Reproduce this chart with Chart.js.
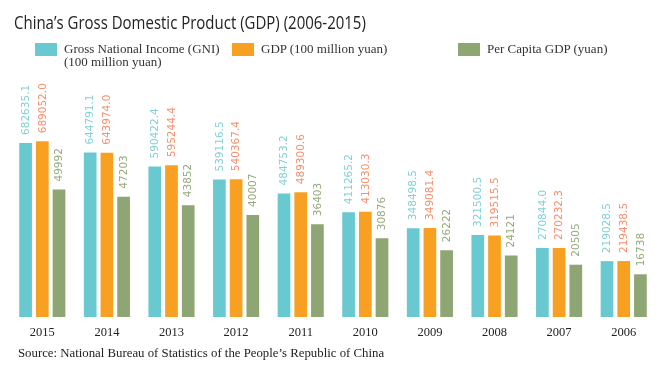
<!DOCTYPE html>
<html>
<head>
<meta charset="utf-8">
<script src="https://cdn.jsdelivr.net/npm/chart.js@4.4.1/dist/chart.umd.min.js"></script>
<style>
    body { margin: 0; background: #fff; }
    #wrap { position: relative; width: 667px; height: 369px; overflow: hidden; }
    #title {
        position: absolute; left: 14px; top: 9px;
        font-family: "Open Sans", sans-serif;
        font-size: 18.5px; color: #222; white-space: nowrap;
        transform: scaleX(0.81); transform-origin: left top;
    }
    .lg { position: absolute; top: 43px; font-family: "Liberation Serif", serif; font-size: 13px; color: #333; line-height: 13px; }
    .lg i { position: absolute; left: 0; top: 0; width: 22px; height: 13px; }
    .lg span { position: absolute; left: 29px; top: -1px; white-space: nowrap; }
    #source {
        position: absolute; left: 18px; top: 346px;
        font-family: "Liberation Serif", serif; font-size: 12.8px; color: #222; white-space: nowrap;
    }
</style>
</head>
<body>
<div id="wrap">
    <canvas id="gdpChart" width="667" height="369"></canvas>
    <div id="title">China’s Gross Domestic Product (GDP) (2006-2015)</div>
    <div class="lg" style="left:35px"><i style="background:#68c9d0"></i><span>Gross National Income (GNI)<br>(100 million yuan)</span></div>
    <div class="lg" style="left:232px"><i style="background:#f8a021"></i><span>GDP (100 million yuan)</span></div>
    <div class="lg" style="left:458px"><i style="background:#8ea673"></i><span>Per Capita GDP (yuan)</span></div>
    <div id="source">Source: National Bureau of Statistics of the People’s Republic of China</div>
</div>
<script>
const years = ["2015", "2014", "2013", "2012", "2011", "2010", "2009", "2008", "2007", "2006"];
const gniValues = [682635.1, 644791.1, 590422.4, 539116.5, 484753.2, 411265.2, 348498.5, 321500.5, 270844.0, 219028.5];
const gdpValues = [689052.0, 643974.0, 595244.4, 540367.4, 489300.6, 413030.3, 349081.4, 319515.5, 270232.3, 219438.5];
const perCapitaValues = [49992, 47203, 43852, 40007, 36403, 30876, 26222, 24121, 20505, 16738];

// labels drawn upright (rotated) above each bar
const barLabels = {
    id: "barLabels",
    afterDatasetsDraw(chart) {
        const ctx = chart.ctx;
        chart.data.datasets.forEach((ds, i) => {
            const meta = chart.getDatasetMeta(i);
            meta.data.forEach((bar, j) => {
                const v = ds.data[j];
                const text = ds.decimals ? v.toFixed(ds.decimals) : String(v);
                ctx.save();
                ctx.translate(bar.x + 0.5, bar.y - 8);
                ctx.rotate(-Math.PI / 2);
                ctx.font = "10.5px 'DejaVu Sans'";
                ctx.fillStyle = ds.labelColor;
                ctx.textAlign = "left";
                ctx.textBaseline = "middle";
                ctx.fillText(text, 0, 0);
                ctx.restore();
            });
        });
    },
};

const ctx = document.getElementById("gdpChart").getContext("2d");
new Chart(ctx, {
    type: "bar",
    data: {
        labels: years,
        datasets: [
            {
                label: "Gross National Income (GNI) (100 million yuan)",
                data: gniValues,
                backgroundColor: "#68c9d0",
                labelColor: "#80d0d6",
                decimals: 1,
                yAxisID: "y",
            },
            {
                label: "GDP (100 million yuan)",
                data: gdpValues,
                backgroundColor: "#f8a021",
                labelColor: "#f68f6c",
                decimals: 1,
                yAxisID: "y",
            },
            {
                label: "Per Capita GDP (yuan)",
                data: perCapitaValues,
                backgroundColor: "#8ea673",
                labelColor: "#94aa7a",
                decimals: 0,
                yAxisID: "y1",
            },
        ],
    },
    options: {
        responsive: false,
        animation: false,
        layout: {
            padding: { top: 62, bottom: 21, left: 10, right: 11 },
        },
        datasets: {
            bar: {
                categoryPercentage: 0.776,
                barPercentage: 0.76,
                borderWidth: 0,
            },
        },
        plugins: {
            legend: { display: false },
            tooltip: { enabled: false },
        },
        scales: {
            x: {
                grid: { display: false, drawTicks: false },
                border: { display: false },
                ticks: {
                    color: "#222",
                    padding: 8,
                    font: { family: "'Liberation Serif', serif", size: 12.5 },
                },
            },
            y: { display: false, min: 0, max: 1000000 },
            y1: { display: false, min: 0, max: 100000 },
        },
    },
    plugins: [barLabels],
});
</script>
</body>
</html>
